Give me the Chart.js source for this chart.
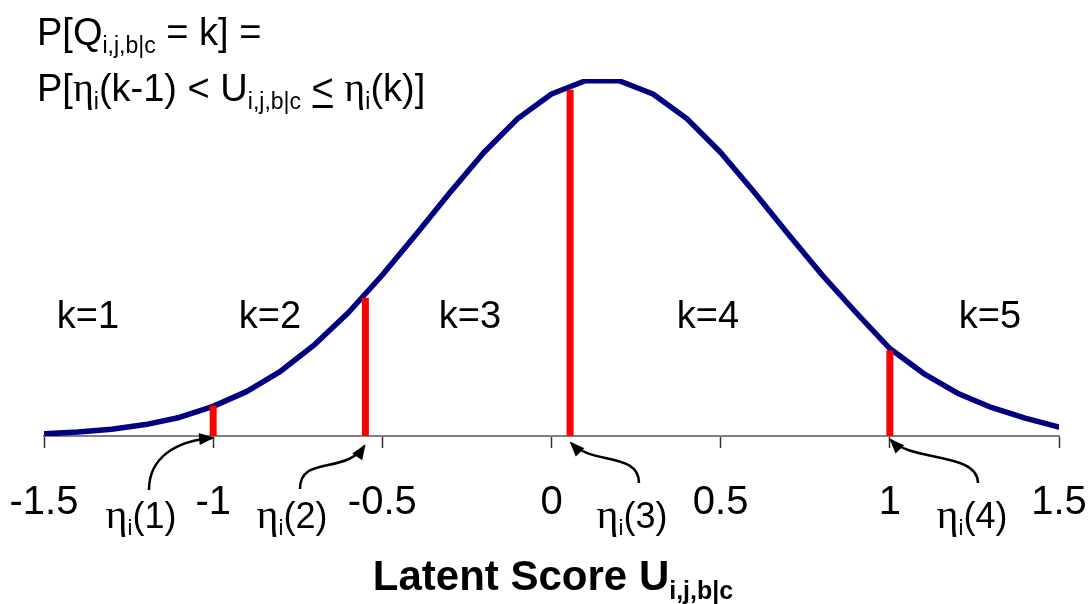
<!DOCTYPE html>
<html><head><meta charset="utf-8">
<script src="https://cdn.jsdelivr.net/npm/chart.js@4.4.0/dist/chart.umd.min.js"></script>
<style>html,body{margin:0;padding:0;background:#fff;overflow:hidden}</style>
</head><body>
<canvas id="c" width="1090" height="604"></canvas>
<script>
// ---- data ----
const latentScores = [-1.5,-1.4,-1.3,-1.2,-1.1,-1.0,-0.9,-0.8,-0.7,-0.6,-0.5,-0.4,-0.3,-0.2,-0.1,0.0,0.1,0.2,0.3,0.4,0.5,0.6,0.7,0.8,0.9,1.0,1.1,1.2,1.3,1.4,1.5];
const density = [0.006,0.011,0.019,0.032,0.052,0.083,0.125,0.182,0.256,0.346,0.451,0.565,0.682,0.794,0.889,0.958,0.995,0.995,0.958,0.889,0.794,0.682,0.565,0.451,0.346,0.245,0.175,0.120,0.080,0.050,0.025];
const thresholdIds = ['1','2','3','4'];
const thresholds = [-1.0, -0.55, 0.055, 1.0];
const thresholdHeights = [0.085, 0.387, 0.97, 0.24];
const tickValues = [-1.5,-1,-0.5,0,0.5,1,1.5];
const tickLabels = ['-1.5','-1','-0.5','0','0.5','1','1.5'];
const categoryLabels = ['k=1','k=2','k=3','k=4','k=5'];

const SANS = '"Liberation Sans", Arial, sans-serif';
const SERIF = '"Liberation Serif", "Times New Roman", serif';

function drawRich(ctx, parts, x, y, align){
  let w = 0;
  parts.forEach(p => { ctx.font = p.f; w += ctx.measureText(p.t).width; });
  let cx = align === 'center' ? x - w/2 : x;
  ctx.textBaseline = 'alphabetic'; ctx.textAlign = 'left';
  const pos = [];
  parts.forEach(p => { ctx.font = p.f; const mw = ctx.measureText(p.t).width; ctx.fillText(p.t, cx, y + (p.dy||0)); pos.push([cx, mw]); cx += mw; });
  return pos;
}

function arrow(ctx, p0, p1, p2, p3){
  ctx.save();
  ctx.strokeStyle = '#000'; ctx.fillStyle = '#000'; ctx.lineWidth = 2.5;
  ctx.beginPath(); ctx.moveTo(p0[0],p0[1]); ctx.bezierCurveTo(p1[0],p1[1],p2[0],p2[1],p3[0],p3[1]); ctx.stroke();
  const ang = Math.atan2(p3[1]-p2[1], p3[0]-p2[0]);
  const L = 13, W = 6;
  ctx.beginPath();
  ctx.moveTo(p3[0]+Math.cos(ang)*2, p3[1]+Math.sin(ang)*2);
  ctx.lineTo(p3[0]-L*Math.cos(ang)+W*Math.sin(ang), p3[1]-L*Math.sin(ang)-W*Math.cos(ang));
  ctx.lineTo(p3[0]-L*Math.cos(ang)-W*Math.sin(ang), p3[1]-L*Math.sin(ang)+W*Math.cos(ang));
  ctx.closePath(); ctx.fill();
  ctx.restore();
}

const annot = {
  id: 'annot',
  afterDraw(chart){
    const ctx = chart.ctx, xs = chart.scales.x;
    ctx.save(); ctx.fillStyle = '#000';
    const F = s => s + 'px ' + SANS;
    // formula text
    drawRich(ctx, [
      {t:'P[Q', f:F(38)}, {t:'i,j,b|c', f:F(23), dy:8}, {t:' = k] =', f:F(38)}
    ], 37, 45, 'left');
    const pos = drawRich(ctx, [
      {t:'P[', f:F(38)}, {t:'η', f:'40px '+SERIF}, {t:'i', f:F(23), dy:8}, {t:'(k-1) < U', f:F(38)},
      {t:'i,j,b|c', f:F(23), dy:8}, {t:' ', f:F(38)}, {t:'<', f:F(38)}, {t:' ', f:F(38)},
      {t:'η', f:'40px '+SERIF}, {t:'i', f:F(23), dy:8}, {t:'(k)]', f:F(38)}
    ], 37, 101, 'left');
    // underline for "less than or equal"
    const lt = pos[6];
    ctx.fillRect(lt[0] + 1, 105, lt[1] - 2, 3);
    // k labels
    const kx = [88, 270, 470, 708, 990];
    categoryLabels.forEach((t,i) => drawRich(ctx, [{t, f:F(38)}], kx[i], 328, 'center'));
    // threshold labels
    const lx = [141, 292, 632, 972];
    thresholdIds.forEach((id,i) => drawRich(ctx, [
      {t:'η', f:'42px '+SERIF}, {t:'i', f:F(22), dy:7}, {t:'('+id+')', f:F(36)}
    ], lx[i], 528, 'center'));
    // arrows to thresholds
    const tx = thresholds.map(v => xs.getPixelForValue(v));
    arrow(ctx, [149,490], [149,458], [175,441], [tx[0]-1,438]);
    arrow(ctx, [300,489], [300,455], [345,475], [tx[1]-1,446]);
    arrow(ctx, [639,483], [639,452], [592,465], [tx[2]+1,443]);
    arrow(ctx, [978,483], [978,452], [912,462], [tx[3]+1,440]);
    // axis title
    drawRich(ctx, [
      {t:'Latent Score U', f:'bold 42px '+SANS}, {t:'i,j,b|c', f:'bold 25px '+SANS, dy:9}
    ], 553, 590, 'center');
    ctx.restore();
  }
};

const datasets = [{
  data: latentScores.map((x,i) => ({x, y: density[i]})),
  borderColor: '#000080', borderWidth: 5.5, pointRadius: 0, tension: 0, order: 1,
  borderJoinStyle: 'round', borderCapStyle: 'round'
}];
thresholds.forEach((t,i) => datasets.push({
  data: [{x:t, y:0}, {x:t, y:thresholdHeights[i]}],
  borderColor: '#ff0000', borderWidth: 7, pointRadius: 0, order: 0, borderCapStyle: 'butt'
}));

new Chart(document.getElementById('c'), {
  type: 'line',
  data: { datasets },
  options: {
    responsive: false, animation: false, devicePixelRatio: 1,
    layout: { padding: { left: 44, right: 31, top: 79, bottom: 0 } },
    plugins: { legend: { display: false }, tooltip: { enabled: false } },
    scales: {
      x: {
        type: 'linear', min: -1.5, max: 1.5,
        afterBuildTicks: s => { s.ticks = tickValues.map(v => ({value: v})); },
        afterFit: s => { s.height = 168; s.paddingLeft = 0; s.paddingRight = 0; },
        ticks: { callback: (v, i) => tickLabels[i], font: { family: SANS, size: 40 }, color: '#000', padding: 31, maxRotation: 0, autoSkip: false },
        grid: { drawOnChartArea: false, drawTicks: true, tickLength: 12, tickColor: '#333', tickWidth: 1.5 },
        border: { display: true, color: '#808080', width: 2 }
      },
      y: { display: false, min: 0, max: 1 }
    }
  },
  plugins: [annot]
});
</script>
</body></html>
